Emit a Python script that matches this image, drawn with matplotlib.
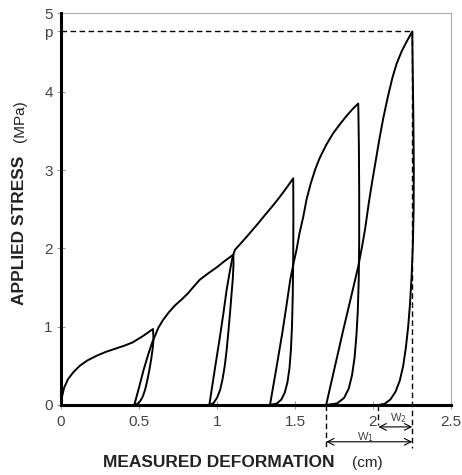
import matplotlib
matplotlib.use("Agg")
import matplotlib.pyplot as plt

plt.rcParams["font.family"] = ["Liberation Sans", "DejaVu Sans"]

# envelope (loading) branches, unloading and reloading branches (cm, MPa)
load1_x = [0, 0.006, 0.02, 0.045, 0.08, 0.12, 0.17, 0.23, 0.29, 0.35, 0.41, 0.46, 0.525, 0.59]
load1_y = [0, 0.10, 0.22, 0.33, 0.42, 0.50, 0.57, 0.63, 0.68, 0.72, 0.76, 0.80, 0.88, 0.97]
unload1_x = [0.59, 0.593, 0.588, 0.578, 0.566, 0.553, 0.54, 0.525, 0.508, 0.49, 0.47]
unload1_y = [0.97, 0.84, 0.72, 0.58, 0.44, 0.31, 0.20, 0.11, 0.05, 0.015, 0]
reload1_x = [0.47, 0.50, 0.53, 0.56, 0.585, 0.60]
reload1_y = [0, 0.22, 0.45, 0.65, 0.80, 0.87]

load2_x = [0.60, 0.625, 0.656, 0.69, 0.73, 0.775, 0.816, 0.85, 0.89, 0.95, 1.0, 1.05, 1.105]
load2_y = [0.87, 0.99, 1.09, 1.18, 1.27, 1.35, 1.43, 1.51, 1.60, 1.69, 1.76, 1.84, 1.92]
unload2_x = [1.105, 1.106, 1.102, 1.094, 1.084, 1.073, 1.062, 1.05, 1.036, 1.02, 1.0, 0.978, 0.951]
unload2_y = [1.92, 1.80, 1.62, 1.43, 1.18, 0.93, 0.70, 0.50, 0.33, 0.19, 0.09, 0.025, 0]
reload2_x = [0.951, 0.985, 1.019, 1.042, 1.062, 1.082, 1.10, 1.115]
reload2_y = [0, 0.44, 0.87, 1.18, 1.47, 1.70, 1.89, 1.98]

load3_x = [1.115, 1.16, 1.2, 1.26, 1.318, 1.36, 1.40, 1.445, 1.489]
load3_y = [1.98, 2.08, 2.17, 2.31, 2.45, 2.55, 2.65, 2.77, 2.895]
unload3_x = [1.489, 1.490, 1.489, 1.486, 1.481, 1.474, 1.465, 1.452, 1.435, 1.413, 1.385, 1.34]
unload3_y = [2.895, 2.4, 1.9, 1.4, 1.0, 0.70, 0.47, 0.29, 0.16, 0.07, 0.02, 0]
reload3_x = [1.34, 1.38, 1.419, 1.445, 1.47, 1.492, 1.51]
reload3_y = [0, 0.46, 0.92, 1.26, 1.60, 1.82, 1.98]

load4_x = [1.51, 1.53, 1.553, 1.575, 1.60, 1.63, 1.66, 1.70, 1.745, 1.79, 1.83, 1.87, 1.906]
load4_y = [1.98, 2.20, 2.40, 2.63, 2.82, 3.01, 3.16, 3.32, 3.47, 3.59, 3.69, 3.78, 3.85]
unload4_x = [1.906, 1.910, 1.912, 1.912, 1.909, 1.903, 1.894, 1.882, 1.866, 1.845, 1.815, 1.77, 1.70]
unload4_y = [3.85, 3.3, 2.7, 2.1, 1.6, 1.2, 0.88, 0.60, 0.38, 0.21, 0.09, 0.02, 0]
reload4_x = [1.70, 1.755, 1.81, 1.86, 1.906, 1.93, 1.95]
reload4_y = [0, 0.48, 0.96, 1.38, 1.77, 2.02, 2.25]

load5_x = [1.95, 1.975, 1.995, 2.018, 2.04, 2.066, 2.095, 2.125, 2.152, 2.185, 2.216, 2.252]
load5_y = [2.25, 2.60, 2.85, 3.12, 3.38, 3.66, 3.93, 4.18, 4.36, 4.52, 4.64, 4.77]
unload5_x = [2.252, 2.255, 2.259, 2.262, 2.261, 2.256, 2.248, 2.238, 2.226, 2.211, 2.194, 2.172, 2.145, 2.112, 2.075, 2.035]
unload5_y = [4.77, 4.3, 3.7, 3.0, 2.5, 2.05, 1.64, 1.30, 1.00, 0.73, 0.50, 0.31, 0.17, 0.07, 0.015, 0]

p_stress = 4.77
w1_start, w2_start, w_end = 1.70, 2.035, 2.252

x_ticks = [0, 0.5, 1, 1.5, 2, 2.5]
x_labels = ["0", "0.5", "1", "1.5", "2", "2.5"]
y_ticks = [0, 1, 2, 3, 4, p_stress, 5]
y_labels = ["0", "1", "2", "3", "4", "p", "5"]

fig = plt.figure(figsize=(4.62, 4.75), dpi=100)
ax = fig.add_axes([0.132, 0.1474, 0.844, 0.8242])

branches = [
    (load1_x + unload1_x, load1_y + unload1_y),
    (reload1_x + load2_x + unload2_x, reload1_y + load2_y + unload2_y),
    (reload2_x + load3_x + unload3_x, reload2_y + load3_y + unload3_y),
    (reload3_x + load4_x + unload4_x, reload3_y + load4_y + unload4_y),
    (reload4_x + load5_x + unload5_x, reload4_y + load5_y + unload5_y),
]
for bx, by in branches:
    ax.plot(bx, by, color="black", lw=1.4, solid_joinstyle="round", zorder=3)

# dashed guide lines
dash = dict(color="black", lw=1.0, ls=(0, (4, 2.5)), clip_on=False, zorder=2)
ax.plot([0, w_end], [p_stress, p_stress], **dash)
ax.plot([w_end, w_end], [p_stress, -0.55], **dash)
ax.plot([w1_start, w1_start], [0, -0.55], **dash)
ax.plot([w2_start, w2_start], [0, -0.26], **dash)

# dimension arrows
arr = dict(arrowstyle="<->", color="black", lw=0.8, mutation_scale=12,
           shrinkA=0, shrinkB=0)
ax.annotate("", xy=(w2_start, -0.28), xytext=(w_end, -0.28),
            arrowprops=arr, annotation_clip=False)
ax.annotate("", xy=(w1_start, -0.47), xytext=(w_end, -0.47),
            arrowprops=arr, annotation_clip=False)
ax.text(2.165, -0.25, "W$_2$", fontsize=8, color="#444444",
        ha="center", va="bottom", clip_on=False)
ax.text(1.955, -0.50, "W$_1$", fontsize=8, color="#444444",
        ha="center", va="bottom", clip_on=False)

ax.set_xlim(0, 2.5)
ax.set_ylim(0, 5)
ax.set_xticks(x_ticks)
ax.set_xticklabels(x_labels)
ax.set_yticks(y_ticks)
ax.set_yticklabels(y_labels)
ax.tick_params(direction="inout", length=6, width=0.8, color="#999999",
               labelsize=11, labelcolor="#444444")
ax.tick_params(axis="x", pad=4)
ax.tick_params(axis="y", pad=3)

for side in ["left", "bottom"]:
    ax.spines[side].set_linewidth(2.2)
    ax.spines[side].set_color("black")
    ax.spines[side].set_zorder(4)
for side in ["top", "right"]:
    ax.spines[side].set_linewidth(0.8)
    ax.spines[side].set_color("#aaaaaa")

fig.text(103 / 462, 1 - 467 / 475, "MEASURED DEFORMATION", fontsize=12.5,
         fontweight="bold", color="#222222", va="baseline", ha="left")
fig.text(352 / 462, 1 - 467 / 475, "(cm)", fontsize=11,
         color="#222222", va="baseline", ha="left")
fig.text(20 / 462, 1 - 230 / 475, "APPLIED STRESS", fontsize=12.5,
         fontweight="bold", color="#222222", rotation=90,
         ha="center", va="center")
fig.text(20 / 462, 1 - 121 / 475, "(MPa)", fontsize=11,
         color="#222222", rotation=90, ha="center", va="center")

fig.savefig("out.png", dpi=100)
